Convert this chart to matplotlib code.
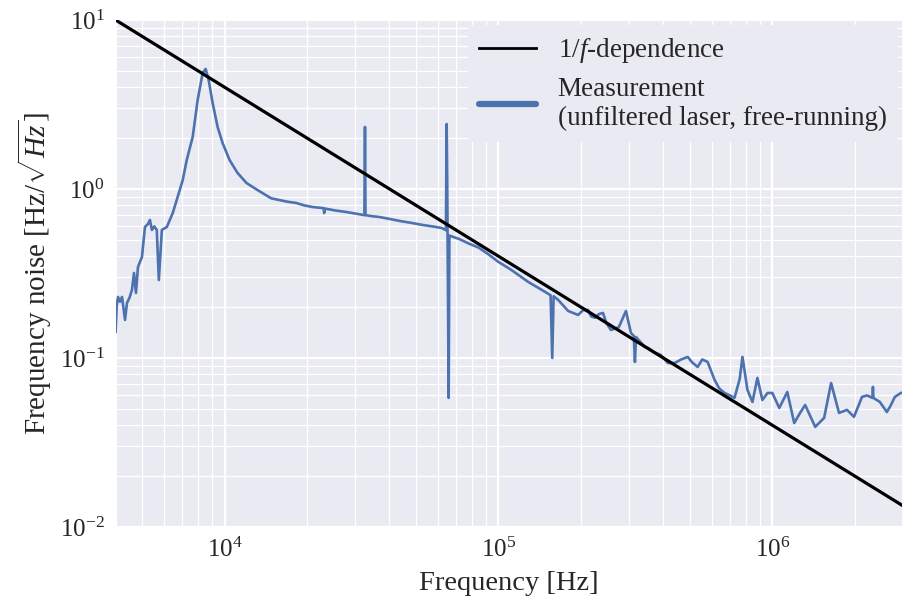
import matplotlib
matplotlib.use("Agg")
import matplotlib.pyplot as plt
from matplotlib.lines import Line2D

# ---- data ----
freq_hz = [
    4000, 4040, 4083, 4150, 4223, 4330, 4402, 4500, 4590, 4669, 4748, 4828, 4993,
    5120, 5250, 5339, 5428, 5540, 5656, 5754, 5902, 6154, 6470, 6691, 6862,
    7036, 7275, 7648, 7975, 8318, 8530, 8746, 9045, 9431, 9834,
    10428, 11150, 12023, 13000, 13748, 14800, 15849, 17000, 18273, 19500, 20893,
    23000, 23100, 23300, 25500, 27777, 30000,
    32400, 32560, 32700, 34500, 36610, 40000, 44000, 48270, 53000, 57500, 62030,
    64300, 64710, 65000, 65800, 66200,
    72000, 78000, 84590, 92000, 100000, 111500, 128500, 148250, 155000, 157200, 159000,
    165200, 179700, 195400, 204000, 212500, 218000, 225000, 233000, 240900, 248000, 257600,
    275000, 292100, 304600,
    312000, 315000, 318000, 342300, 351200, 370000, 391400, 415100, 440200,
    465000, 490900, 510000, 533800, 555000, 580300, 615500, 640000, 669100, 700000, 727400,
    760000, 777900, 811300, 846100, 882300, 919600, 960000, 1.0e6, 1.06e6, 1.134e6, 1.202e6,
    1.26e6, 1.318e6, 1.434e6, 1.546e6, 1.639e6, 1.752e6, 1.874e6, 1.987e6,
    2.125e6, 2.22e6, 2.32e6, 2.33e6, 2.34e6, 2.47e6, 2.619e6, 2.7e6, 2.801e6, 2.95e6,
]
noise = [
    0.1426, 0.205, 0.2296, 0.215, 0.2296, 0.1679, 0.2115, 0.228, 0.2526, 0.3184, 0.2424, 0.3455, 0.3959,
    0.5957, 0.620, 0.6556, 0.5721, 0.600, 0.5721, 0.2893, 0.5721, 0.5957, 0.7211, 0.8606, 0.9865,
    1.130, 1.484, 2.031, 3.362, 4.858, 5.130, 4.416, 3.228, 2.328, 1.872,
    1.484, 1.244, 1.085, 1.000, 0.947, 0.880, 0.8606, 0.840, 0.8264, 0.800, 0.7824,
    0.770, 0.720, 0.765, 0.745, 0.7311, 0.715,
    0.700, 2.328, 0.700, 0.690, 0.6829, 0.665, 0.645, 0.6292, 0.612, 0.600, 0.5878,
    0.570, 2.424, 1.130, 0.058, 0.530,
    0.505, 0.475, 0.450, 0.410, 0.370, 0.3316, 0.2817, 0.2457, 0.235, 0.100, 0.232,
    0.2205, 0.1897, 0.1797, 0.1923, 0.1923, 0.176, 0.173, 0.182, 0.1846, 0.160, 0.1464,
    0.152, 0.1897, 0.1406,
    0.135, 0.0947, 0.133, 0.1162, 0.1146, 0.108, 0.1042, 0.0934, 0.0934,
    0.098, 0.1014, 0.094, 0.0885, 0.098, 0.0947, 0.0741, 0.066, 0.0621, 0.060, 0.058,
    0.075, 0.1014, 0.0647, 0.0549, 0.0762, 0.0564, 0.062, 0.0621, 0.0506, 0.0629, 0.0412,
    0.047, 0.0527, 0.0391, 0.0442, 0.0711, 0.0473, 0.0493, 0.0448,
    0.0588, 0.060, 0.058, 0.0674, 0.058, 0.0549, 0.0479, 0.052, 0.0588, 0.0621,
]

ref_freq = [4000, 3.0e6]
ref_noise = [10.0, 4.0e4 / 3.0e6]

x_limits = (4000, 3.0e6)
y_limits = (1e-2, 1e1)

label_ref = r"$1/f$-dependence"
label_meas = "Measurement\n(unfiltered laser, free-running)"

# ---- style ----
plt.rcParams["font.family"] = ["Liberation Serif", "DejaVu Serif"]
plt.rcParams["mathtext.fontset"] = "custom"
plt.rcParams["mathtext.rm"] = "Liberation Serif"
plt.rcParams["mathtext.it"] = "Liberation Serif:italic"
plt.rcParams["mathtext.bf"] = "Liberation Serif:bold"

blue = "#4C72B0"
bg = "#EAEAF2"
txt = "#262626"

fig = plt.figure(figsize=(9.03, 6.05), dpi=100)
ax = fig.add_axes([0.128, 0.129, 0.872, 0.838])
ax.set_facecolor(bg)
for s in ax.spines.values():
    s.set_visible(False)

ax.set_xscale("log")
ax.set_yscale("log")
ax.set_xlim(*x_limits)
ax.set_ylim(*y_limits)

ax.grid(True, which="major", color="white", linewidth=1.6, zorder=0)
ax.grid(True, which="minor", color="white", linewidth=0.9, zorder=0)
ax.set_axisbelow(True)

ax.plot(freq_hz, noise, color=blue, linewidth=1.9, zorder=2)
ax.plot(ref_freq, ref_noise, color="black", linewidth=2.3, zorder=3)

ax.tick_params(which="both", length=0, labelsize=18, colors=txt, pad=8)
ax.set_xlabel("Frequency [Hz]", fontsize=20.5, color=txt, labelpad=6)
ax.set_ylabel(r"Frequency noise [Hz/$\sqrt{Hz}$]", fontsize=21, color=txt, labelpad=4)

handles = [Line2D([], [], color="black", linewidth=2.0),
           Line2D([], [], color=blue, linewidth=4.5, solid_capstyle="round")]
leg = ax.legend(handles, [label_ref, label_meas], loc="upper right",
                fontsize=19.5, frameon=True, facecolor=bg, edgecolor="none",
                framealpha=1.0, handlelength=2.1, borderaxespad=0.2,
                labelspacing=0.45)
for t in leg.get_texts():
    t.set_color(txt)

fig.savefig("out.png", dpi=100)
